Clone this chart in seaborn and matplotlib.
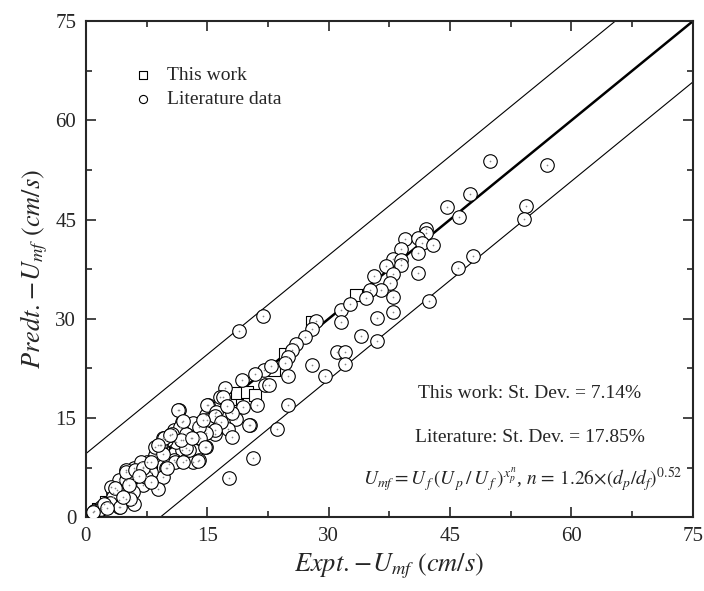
import numpy as np
import pandas as pd
import matplotlib
matplotlib.use("Agg")
import matplotlib.pyplot as plt
import seaborn as sns

# ---- data ----
this_work_x = [1.5, 2.5, 3.5, 5.0, 6.5, 8.0, 9.5, 11.0, 12.5, 13.3, 14.7, 16.0,
               17.4, 17.8, 18.7, 19.9, 20.9, 23.2, 24.6, 27.9, 33.4]
this_work_y = [1.2, 2.3, 3.4, 5.2, 6.8, 8.3, 9.8, 11.5, 12.7, 13.9, 13.7, 14.7,
               16.8, 17.9, 18.7, 18.9, 18.4, 22.3, 24.7, 29.5, 33.6]

lit_x = [50.0, 57.0, 47.5, 44.6, 46.1, 54.4, 54.1, 42.0, 42.0, 39.5, 41.1, 41.6,
         42.9, 39.0, 41.1, 38.0, 39.0, 39.0, 37.1, 38.0, 41.1, 35.6, 37.6, 36.5,
         38.0, 38.0, 36.0, 35.1, 34.6, 47.9, 46.0, 42.4, 34.0, 36.0, 31.5, 32.7,
         31.5, 31.0, 32.0, 32.0, 28.0, 29.5, 28.5, 28.0, 27.1, 26.0, 25.5, 25.0,
         24.6, 22.0, 20.9, 25.0, 22.1, 22.6, 21.1, 25.0, 23.6, 21.9, 20.3, 18.9,
         22.9, 19.3, 17.2, 16.6, 19.4, 20.1, 18.5, 18.0, 15.1, 14.9, 15.9, 16.1,
         14.9, 15.9, 17.6, 18.0, 17.7, 20.7, 11.5, 15.0, 16.9, 16.1, 15.0, 15.9,
         16.7, 15.9, 14.8, 14.8, 14.0, 14.0, 11.9, 13.2, 14.0, 10.9, 11.9, 13.0,
         11.9, 11.1, 12.4, 13.2, 10.9, 9.9, 9.3, 9.5, 8.6, 7.6, 9.9, 9.5,
         8.9, 8.0, 7.0, 6.0, 4.9, 6.0, 7.0, 5.8, 4.9, 6.0, 4.1, 4.1,
         3.3, 2.9, 1.9, 1.0, 4.1, 4.9, 6.8, 8.6, 10.3, 12.8, 7.4, 3.1,
         11.6, 12.0, 12.4, 10.4, 10.6, 9.1, 14.1, 11.0, 12.0, 13.9, 10.0, 9.5,
         8.1, 5.8, 5.0, 6.1, 7.1, 8.1, 5.4, 3.8, 3.4, 3.0, 1.9, 0.9,
         4.2, 11.4, 14.5, 14.7, 12.0, 12.4, 11.8, 9.6, 10.4, 8.9, 13.1, 17.4,
         2.2, 3.6, 5.3, 6.6, 2.6, 4.6]
lit_y = [53.9, 53.2, 48.9, 46.9, 45.4, 47.1, 45.1, 43.6, 43.0, 42.1, 42.2, 41.5,
         41.2, 40.5, 39.9, 39.1, 38.9, 38.2, 38.0, 36.8, 37.0, 36.4, 35.4, 34.3,
         33.3, 31.0, 30.1, 34.3, 33.2, 39.5, 37.7, 32.7, 27.4, 26.7, 31.3, 32.3,
         29.5, 25.0, 25.0, 23.2, 23.0, 21.4, 29.7, 28.4, 27.3, 26.2, 25.3, 24.2,
         23.3, 22.2, 21.7, 21.3, 20.0, 20.0, 16.9, 16.9, 13.4, 30.4, 13.9, 28.2,
         22.8, 20.8, 19.5, 18.1, 16.7, 13.9, 14.9, 15.8, 16.9, 15.4, 15.7, 14.4,
         13.4, 12.6, 13.4, 12.1, 5.9, 8.9, 16.2, 16.9, 18.2, 15.9, 14.7, 15.3,
         14.4, 13.2, 12.7, 10.6, 11.9, 8.6, 14.4, 14.2, 13.7, 13.2, 12.7, 11.9,
         10.1, 11.4, 8.6, 8.4, 8.6, 11.6, 10.9, 11.9, 9.4, 8.4, 7.4, 6.1,
         4.3, 6.9, 7.6, 7.4, 7.1, 5.6, 4.8, 3.8, 2.8, 2.0, 2.6, 1.6,
         3.6, 2.3, 1.6, 1.0, 5.6, 5.6, 8.4, 10.6, 8.1, 10.1, 6.1, 4.6,
         13.7, 11.6, 12.6, 12.4, 12.6, 10.9, 11.9, 8.4, 8.4, 8.5, 7.4, 9.6,
         5.3, 6.1, 6.9, 7.1, 7.4, 8.4, 2.8, 4.1, 3.1, 2.1, 1.3, 0.8,
         1.6, 16.2, 14.7, 10.6, 14.6, 10.4, 11.6, 11.9, 12.4, 10.9, 11.9, 16.8,
         2.0, 4.4, 4.9, 6.2, 1.4, 3.0]

# parity line and error band lines
line_x = [0, 75]
parity_y = [0, 75]
upper_y = [9.6, 84.6]
lower_y = [-9.2, 65.8]

ticks = [0, 15, 30, 45, 60, 75]
minor_ticks = [7.5, 22.5, 37.5, 52.5, 67.5]

work = pd.DataFrame({'expt': this_work_x, 'pred': this_work_y})
lit = pd.DataFrame({'expt': lit_x, 'pred': lit_y})

# ---- style ----
sns.set_style("ticks")
plt.rcParams['font.family'] = ['Liberation Serif', 'DejaVu Serif']
plt.rcParams['mathtext.fontset'] = 'stix'

fig = plt.figure(figsize=(7.04, 5.91), dpi=100)
ax = fig.add_axes([0.122, 0.125, 0.862, 0.839])

# lines
sns.lineplot(x=line_x, y=upper_y, ax=ax, color='black', linewidth=0.8)
sns.lineplot(x=line_x, y=lower_y, ax=ax, color='black', linewidth=0.8)
sns.lineplot(x=line_x, y=parity_y, ax=ax, color='black', linewidth=1.8)

# points (squares sit underneath the circles, like in the original)
sns.scatterplot(data=work, x='expt', y='pred', ax=ax, marker='s', s=80,
                facecolor='white', edgecolor='black', linewidth=0.8,
                label='This work', zorder=3)
sns.scatterplot(data=lit, x='expt', y='pred', ax=ax, marker='o', s=95,
                facecolor='white', edgecolor='black', linewidth=0.8,
                label='Literature data', zorder=4)
# small centre dots seen in the original markers
sns.scatterplot(data=lit, x='expt', y='pred', ax=ax, marker='o', s=1.5,
                color='#888888', linewidth=0, zorder=5, legend=False)

ax.set_xlim(0, 75)
ax.set_ylim(0, 75)
ax.set_xticks(ticks)
ax.set_yticks(ticks)
ax.set_xticks(minor_ticks, minor=True)
ax.set_yticks(minor_ticks, minor=True)
ax.tick_params(which='both', direction='in', top=True, right=True,
               width=1.2, labelsize=15, pad=7)
ax.tick_params(which='major', length=7)
ax.tick_params(which='minor', length=4)
for sp in ax.spines.values():
    sp.set_linewidth(1.5)
    sp.set_visible(True)

ax.set_xlabel(r'$Expt.\!-\!U_{mf}\ (cm/s)$', fontsize=19, labelpad=4)
ax.set_ylabel(r'$Predt.\!-\!U_{mf}\ (cm/s)$', fontsize=19, labelpad=4)

handles, labels = ax.get_legend_handles_labels()
ax.legend(handles, labels, loc='upper left', bbox_to_anchor=(0.05, 0.945),
          frameon=False, fontsize=14, markerscale=0.6, handletextpad=0.7,
          labelspacing=0.35, handlelength=1.0)

ax.text(0.731, 0.25, 'This work: St. Dev. = 7.14%', transform=ax.transAxes,
        ha='center', va='center', fontsize=14)
ax.text(0.731, 0.161, 'Literature: St. Dev. = 17.85%', transform=ax.transAxes,
        ha='center', va='center', fontsize=14)
ax.text(0.72, 0.075,
        r'$U_{mf}=U_{\,f}\,(U_{\,p}\,/\,U_{\,f}\,)^{x_p^n}$, $n\,=\,1.26{\times}(d_p/d_f)^{0.52}$',
        transform=ax.transAxes, ha='center', va='center', fontsize=14)

fig.savefig('out.png', dpi=100)
